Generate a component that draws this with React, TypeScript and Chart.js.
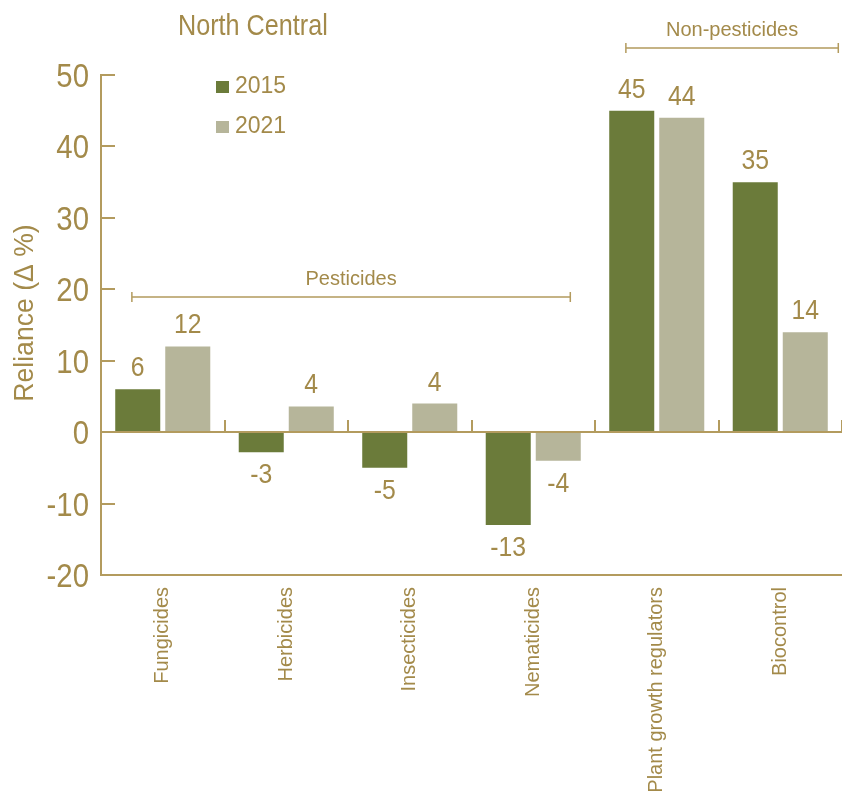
import React, { useEffect, useRef } from "react";
import { Chart, registerables } from "chart.js";

Chart.register(...registerables);

const categories = [
  "Fungicides",
  "Herbicides",
  "Insecticides",
  "Nematicides",
  "Plant growth regulators",
  "Biocontrol",
];
const seriesNames = ["2015", "2021"];
const values2015 = [6, -2.8, -5, -13, 45, 35];
const values2021 = [12, 3.6, 4, -4, 44, 14];
const labels2015 = ["6", "-3", "-5", "-13", "45", "35"];
const labels2021 = ["12", "4", "4", "-4", "44", "14"];
const yTicks = [-20, -10, 0, 10, 20, 30, 40, 50];
const groupNames = ["Pesticides", "Non-pesticides"];
const groupStart = [-0.25, 3.75];
const groupEnd = [3.3, 5.47];
const chartTitle = "North Central";
const yTitle = "Reliance (\u0394 %)";

const GREEN = "#6B7B3A";
const BEIGE = "#B6B59A";
const TEXT = "#A38A4A";
const AXIS = "#B39B5E";
const FONT = '"Liberation Sans", Arial, sans-serif';

function drawText(
  ctx: CanvasRenderingContext2D,
  text: string,
  x: number,
  y: number,
  size: number,
  sx: number,
  align: CanvasTextAlign,
  rot = 0
) {
  ctx.save();
  ctx.translate(x, y);
  if (rot) ctx.rotate(rot);
  ctx.scale(sx, 1);
  ctx.font = `${size}px ${FONT}`;
  ctx.textAlign = align;
  ctx.textBaseline = "alphabetic";
  ctx.fillStyle = TEXT;
  ctx.fillText(text, 0, 0);
  ctx.restore();
}

const overlay = {
  id: "overlay",
  afterDraw(chart: any) {
    const ctx = chart.ctx as CanvasRenderingContext2D;
    const xs = chart.scales.x;
    const ys = chart.scales.y;
    const area = chart.chartArea;
    ctx.save();
    ctx.strokeStyle = AXIS;
    ctx.lineWidth = 2;
    // inward y ticks and tick labels
    yTicks.forEach((v) => {
      const py = Math.round(ys.getPixelForValue(v));
      ctx.beginPath();
      ctx.moveTo(area.left, py);
      ctx.lineTo(area.left + 14, py);
      ctx.stroke();
      drawText(ctx, String(v), area.left - 12, py + 12, 33, 0.89, "right");
    });
    // zero line
    const y0 = Math.round(ys.getPixelForValue(0));
    ctx.beginPath();
    ctx.moveTo(area.left, y0);
    ctx.lineTo(area.right, y0);
    ctx.stroke();
    // category separators on the zero line
    for (let i = 0; i < categories.length; i++) {
      const px = Math.round(xs.getPixelForValue(i + 0.5));
      ctx.beginPath();
      ctx.moveTo(px, y0);
      ctx.lineTo(px, y0 - 12);
      ctx.stroke();
    }
    // value labels
    const allLabels = [labels2015, labels2021];
    chart.data.datasets.forEach((ds: any, di: number) => {
      const meta = chart.getDatasetMeta(di);
      meta.data.forEach((bar: any, i: number) => {
        const v = ds.data[i];
        const ty = v >= 0 ? bar.y - 13 : bar.y + 31;
        drawText(ctx, allLabels[di][i], bar.x, ty, 28, 0.885, "center");
      });
    });
    // group brackets
    ctx.lineWidth = 1.5;
    const bracketY = [297, 48];
    groupNames.forEach((name, gi) => {
      const x1 = xs.getPixelForValue(groupStart[gi]);
      const x2 = xs.getPixelForValue(groupEnd[gi]);
      const by = bracketY[gi];
      ctx.beginPath();
      ctx.moveTo(x1, by);
      ctx.lineTo(x2, by);
      ctx.moveTo(x1, by - 5);
      ctx.lineTo(x1, by + 5);
      ctx.moveTo(x2, by - 5);
      ctx.lineTo(x2, by + 5);
      ctx.stroke();
      drawText(ctx, name, (x1 + x2) / 2, by - 12, 20, 1, "center");
    });
    // title
    drawText(ctx, chartTitle, 178, 35, 30, 0.84, "left");
    // legend
    const colors = [GREEN, BEIGE];
    const legendY = [93, 133];
    seriesNames.forEach((n, i) => {
      ctx.fillStyle = colors[i];
      ctx.fillRect(216, legendY[i] - 12, 13, 12);
      drawText(ctx, n, 235, legendY[i], 23, 1, "left");
    });
    // y title
    drawText(ctx, yTitle, 33, 313, 28, 0.95, "center", -Math.PI / 2);
    ctx.restore();
  },
};

export default function App() {
  const ref = useRef<HTMLCanvasElement | null>(null);
  useEffect(() => {
    if (!ref.current) return;
    const chart = new Chart(ref.current, {
      type: "bar",
      data: {
        labels: categories,
        datasets: [
          { label: seriesNames[0], data: values2015, backgroundColor: GREEN, borderWidth: 0 },
          { label: seriesNames[1], data: values2021, backgroundColor: BEIGE, borderWidth: 0 },
        ],
      },
      options: {
        responsive: false,
        animation: false,
        events: [],
        layout: { padding: { top: 75, right: 0, left: 0, bottom: 0 } },
        datasets: { bar: { categoryPercentage: 0.81, barPercentage: 0.9 } },
        plugins: { legend: { display: false }, tooltip: { enabled: false }, title: { display: false } },
        scales: {
          x: {
            grid: { display: false, drawTicks: false },
            border: { display: true, color: AXIS, width: 2 },
            ticks: {
              color: TEXT,
              font: { family: FONT, size: 20 },
              minRotation: 90,
              maxRotation: 90,
              padding: 12,
              autoSkip: false,
            },
            afterFit: (s: any) => {
              s.height = 223;
            },
          },
          y: {
            min: -20,
            max: 50,
            afterBuildTicks: (s: any) => {
              s.ticks = yTicks.map((v) => ({ value: v }));
            },
            grid: { display: false, drawTicks: false },
            border: { display: true, color: AXIS, width: 2 },
            ticks: { display: false },
            afterFit: (s: any) => {
              s.width = 101;
            },
          },
        },
      },
      plugins: [overlay],
    });
    return () => chart.destroy();
  }, []);
  return (
    <div style={{ position: "absolute", left: 0, top: 0, width: 842, height: 798 }}>
      <canvas ref={ref} width={842} height={798} style={{ display: "block", width: 842, height: 798 }} />
    </div>
  );
}
